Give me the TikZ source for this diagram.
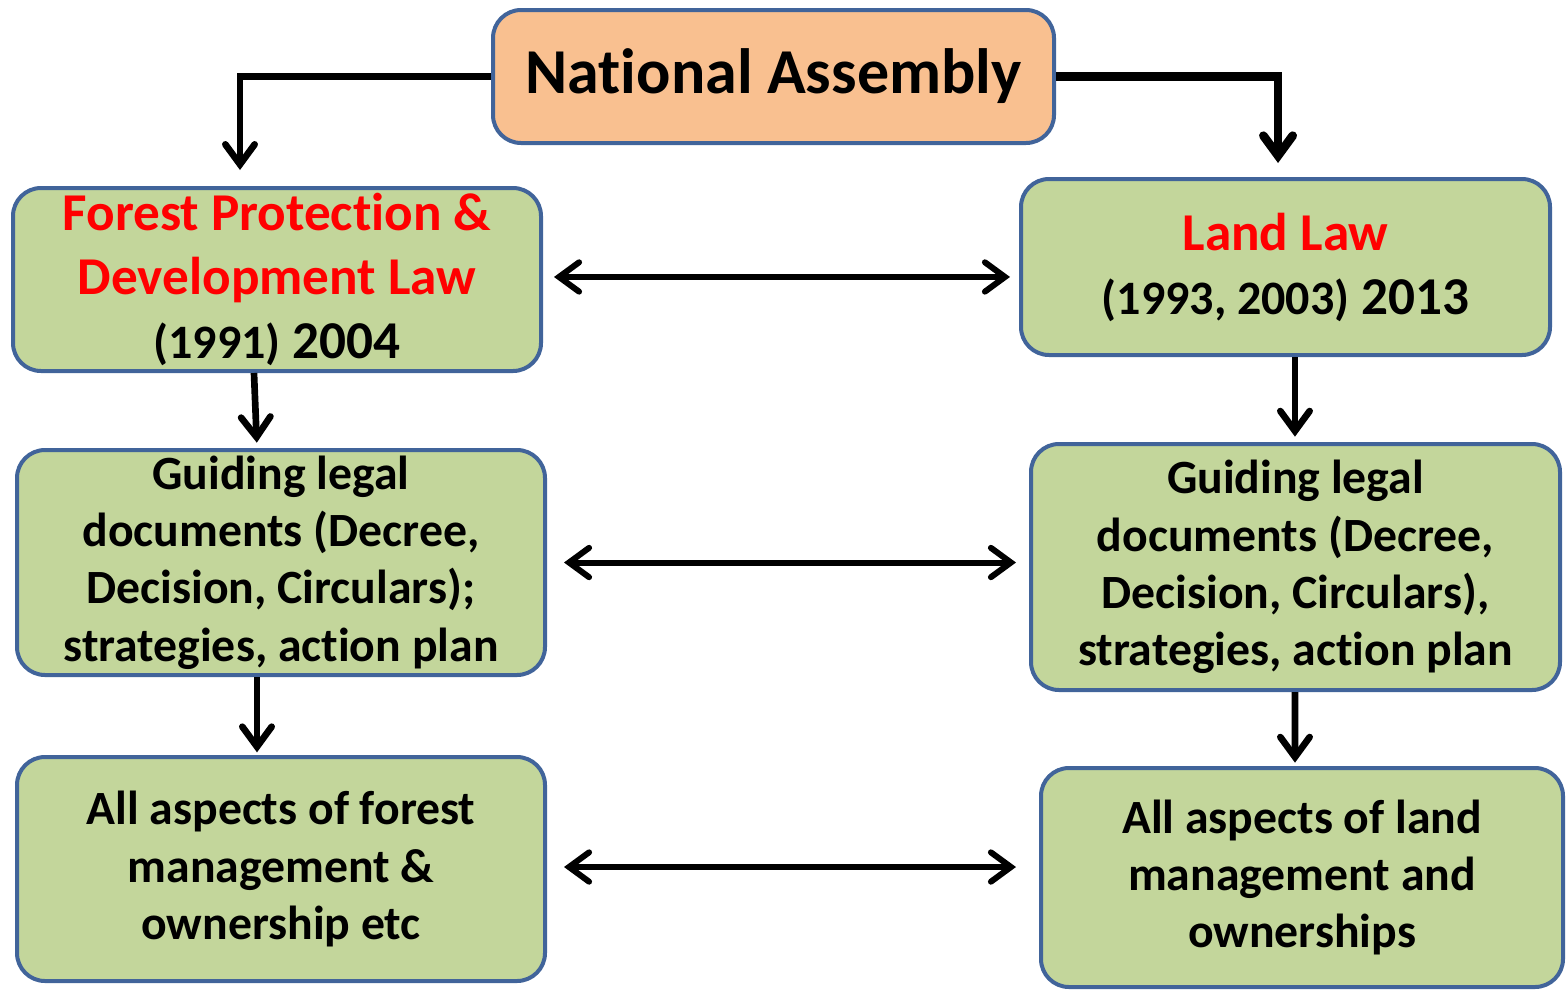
\documentclass[tikz,border=0pt]{standalone}
\usepackage{fontspec}
\setmainfont{Carlito}[Ligatures=CommonOff]
\usetikzlibrary{arrows.meta,calc}
\definecolor{peach}{HTML}{F9C090}
\definecolor{boxgreen}{HTML}{C3D69B}
\definecolor{boxborder}{HTML}{41649A}
\definecolor{lawred}{HTML}{FF0000}
\tikzset{
  box/.style={draw=boxborder, line width=3pt, rounded corners=21pt, fill=boxgreen,
    align=center, inner sep=0pt, font=\bfseries},
  titlebox/.style={box, fill=peach},
  conn/.style={line width=5pt, line cap=butt,
    -{Straight Barb[length=15pt,width=22pt,line cap=round,line join=miter]}},
  dconn/.style={line width=4.5pt,
    {Straight Barb[length=15pt,width=22pt,line cap=round,line join=miter]}-{Straight Barb[length=15pt,width=22pt,line cap=round,line join=miter]}},
  bodytext/.style={font=\bfseries\fontsize{35.8}{43}\selectfont},
  lawtext/.style={font=\bfseries\fontsize{39.9}{48}\selectfont},
}
\newcommand{\yrs}[1]{{\fontsize{36}{48}\selectfont #1}}
\begin{document}
\begin{tikzpicture}[x=0.75pt,y=-0.75pt]
\useasboundingbox (0,0) rectangle (1567,990);
\node[titlebox, minimum width=420.75pt, minimum height=99.75pt,
  font=\bfseries\fontsize{48}{56}\selectfont] (na) at (773.5,76.5) {National Assembly};
\node[box, lawtext, minimum width=396pt, minimum height=137.25pt] (fpd) at (277,279.5)
  {\textcolor{lawred}{Forest Protection \&}\\\textcolor{lawred}{Development Law}\\\yrs{(1991)} 2004};
\node[box, lawtext, minimum width=396.75pt, minimum height=132pt] (land) at (1285.5,267)
  {\textcolor{lawred}{Land Law}\\\yrs{(1993, 2003)} 2013};
\node[box, bodytext, minimum width=396pt, minimum height=168.75pt] (gll) at (281,562.5)
  {Guiding legal\\documents (Decree,\\Decision, Circulars);\\strategies, action plan};
\node[box, bodytext, minimum width=396.75pt, minimum height=184.5pt] (glr) at (1295.5,567)
  {Guiding legal\\documents (Decree,\\Decision, Circulars),\\strategies, action plan};
\node[box, bodytext, minimum width=396pt, minimum height=168pt] (alll) at (281,869)
  {All aspects of forest\\management \&\\ownership etc};
\node[box, bodytext, minimum width=391.5pt, minimum height=164.25pt] (allr) at (1302,877.5)
  {All aspects of land\\management and\\ownerships};
% top connectors
\draw[conn, shorten >=12pt] (na.west) -| ([xshift=-27.75pt]fpd.north);
\draw[conn, line width=6.5pt, shorten >=10.5pt] (na.east) -| ([xshift=-5.6pt]land.north);
% vertical connectors
\draw[conn, shorten >=4pt] ([xshift=-17.25pt]fpd.south) -- ([xshift=-18pt]gll.north);
\draw[conn, shorten >=4pt] ([xshift=7.1pt]land.south) -- ([xshift=-0.4pt]glr.north);
\draw[conn, shorten >=2pt] ([xshift=-18pt]gll.south) -- ([xshift=-18pt]alll.north);
\draw[conn, shorten >=2.5pt] ([xshift=-0.4pt]glr.south) -- ([xshift=-5.25pt]allr.north);
% horizontal double connectors
\draw[dconn, shorten <=8.25pt, shorten >=6.75pt] ([yshift=1.9pt]fpd.east) -- ([yshift=1.9pt]fpd.east -| land.west);
\draw[dconn, shorten <=12.75pt, shorten >=9.75pt] (gll.east) -- (gll.east -| glr.west);
\draw[dconn, shorten <=12.75pt, shorten >=17.25pt] ([yshift=1.5pt]alll.east) -- ([yshift=1.5pt]alll.east -| allr.west);
\end{tikzpicture}
\end{document}
